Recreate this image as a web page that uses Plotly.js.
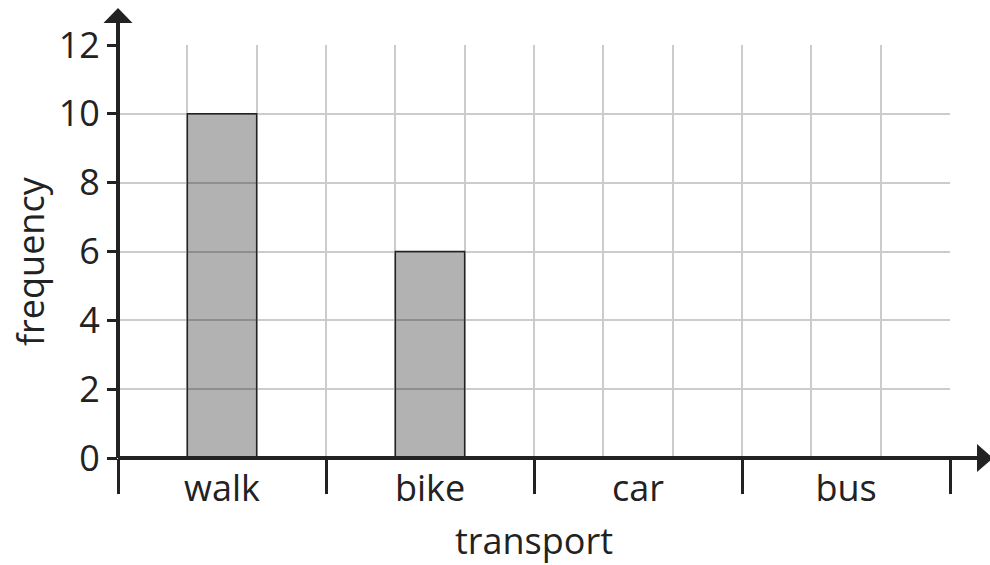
<!DOCTYPE html>
<html>
<head>
<meta charset="utf-8">
<script src="https://cdn.plot.ly/plotly-3.0.1.min.js"></script>
<style>html,body{margin:0;padding:0;background:#fff;}#chart{width:990px;height:565px;}</style>
</head>
<body>
<div id="chart"></div>
<script>
// Data
const categories = ["walk", "bike", "car", "bus"];
const frequencies = [10, 6, 0, 0];
const yTickValues = [0, 2, 4, 6, 8, 10, 12];
const xTitle = "transport";
const yTitle = "frequency";

// each category spans 3 grid columns; bar occupies the middle column
const colsPerCat = 3;
const catCenters = categories.map((c, i) => i * colsPerCat + colsPerCat / 2);
const catBounds = categories.map((c, i) => i * colsPerCat).concat([categories.length * colsPerCat]);
const xMax = categories.length * colsPerCat;
const yMax = yTickValues[yTickValues.length - 1];

const ink = "#222222";
const gridc = "#cccccc";
const font = {family: "Open Sans, Noto Sans, sans-serif", size: 36, color: ink};

const bars = {
  type: "bar",
  x: catCenters,
  y: frequencies,
  width: 1,
  marker: {color: "rgba(0,0,0,0.3)", line: {color: ink, width: 1.5}},
  hoverinfo: "skip",
  showlegend: false
};
const dummy = {
  type: "scatter", mode: "markers", x: [0], y: [0], xaxis: "x2", yaxis: "y",
  marker: {opacity: 0}, hoverinfo: "skip", showlegend: false
};

// arrow geometry in paper units (decoration)
const W = 832, H = 413;
const layout = {
  width: 990, height: 565,
  margin: {l: 118, r: 40, t: 45, b: 107},
  paper_bgcolor: "#fff", plot_bgcolor: "rgba(0,0,0,0)",
  font: font,
  xaxis: {
    range: [0, xMax], tickvals: catCenters, ticktext: categories,
    ticks: "", showgrid: false, zeroline: false, showline: false,
    ticklabelstandoff: 6,
    title: {text: xTitle, font: font, standoff: 24},
    fixedrange: true
  },
  xaxis2: {
    overlaying: "x", side: "bottom", range: [0, xMax],
    tickvals: catBounds, ticks: "outside", ticklen: 35, tickwidth: 3, tickcolor: ink,
    showticklabels: false, showgrid: false, zeroline: false, showline: false,
    minor: {dtick: 1, tick0: 0, showgrid: true, gridcolor: gridc, gridwidth: 2, ticks: ""},
    fixedrange: true
  },
  yaxis: {
    range: [0, yMax], tickvals: yTickValues,
    ticks: "outside", ticklen: 10, tickwidth: 3, tickcolor: ink,
    showgrid: true, gridcolor: gridc, gridwidth: 2,
    zeroline: false, showline: false,
    fixedrange: true
  },
  annotations: [
    {text: yTitle, xref: "paper", yref: "paper", x: (30 - 118) / W, y: (458 - 261) / H,
      xanchor: "center", yanchor: "middle", textangle: -90, showarrow: false, font: font}
  ],
  shapes: [
    {type: "line", xref: "paper", yref: "paper", x0: 0, x1: 1 + 30 / W, y0: 0, y1: 0, line: {color: ink, width: 4}, layer: "above"},
    {type: "line", xref: "paper", yref: "paper", x0: 0, x1: 0, y0: 0, y1: 1 + 24 / H, line: {color: ink, width: 4}, layer: "above"},
    {type: "path", xref: "paper", yref: "paper",
      path: `M ${-14.5 / W} ${1 + 22 / H} L ${14.5 / W} ${1 + 22 / H} L 0 ${1 + 37 / H} Z`,
      fillcolor: ink, line: {width: 0}, layer: "above"},
    {type: "path", xref: "paper", yref: "paper",
      path: `M ${1 + 27 / W} ${14 / H} L ${1 + 27 / W} ${-14 / H} L ${1 + 43 / W} 0 Z`,
      fillcolor: ink, line: {width: 0}, layer: "above"}
  ],
  showlegend: false
};

Plotly.newPlot("chart", [dummy, bars], layout, {displayModeBar: false, staticPlot: true});
</script>
</body>
</html>
